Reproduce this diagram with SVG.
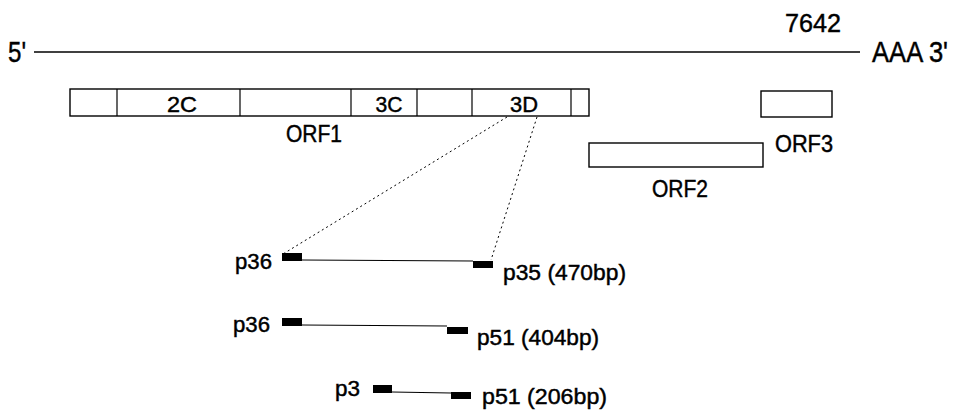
<svg xmlns="http://www.w3.org/2000/svg" width="960" height="410" viewBox="0 0 960 410">
  <style>
    text { font-family: "Liberation Sans", Arial, sans-serif; fill: #000; stroke: #000; stroke-width: 0.45; }
    .big { font-size: 30px; }
    .lbl { font-size: 24px; }
    .seg { font-size: 22px; text-anchor: middle; }
    .pr  { font-size: 22px; }
    .box { fill: #fff; stroke: #000; stroke-width: 1.4; }
    .div { stroke: #000; stroke-width: 1.2; }
    .rna { stroke: #000; stroke-width: 1.4; fill: none; }
    .amp { stroke: #000; stroke-width: 1.2; fill: none; }
    .dot { stroke: #000; stroke-width: 1; stroke-dasharray: 2 3; fill: none; }
    .primer { fill: #000; }
  </style>

  <!-- genomic RNA -->
  <g id="genome">
    <line class="rna" x1="34" y1="52" x2="860" y2="52"/>
    <text class="big" x="8" y="62" textLength="18" lengthAdjust="spacingAndGlyphs">5'</text>
    <text class="big" x="872" y="62" textLength="76" lengthAdjust="spacingAndGlyphs">AAA 3'</text>
    <text class="big" x="785" y="32" style="font-size:26.5px" textLength="56" lengthAdjust="spacingAndGlyphs">7642</text>
  </g>

  <!-- ORF1 polyprotein with its segments -->
  <g id="orf1">
    <rect class="box" x="70" y="89" width="519" height="27"/>
    <line class="div" x1="117" y1="89" x2="117" y2="116"/>
    <line class="div" x1="240" y1="89" x2="240" y2="116"/>
    <line class="div" x1="351" y1="89" x2="351" y2="116"/>
    <line class="div" x1="417" y1="89" x2="417" y2="116"/>
    <line class="div" x1="472" y1="89" x2="472" y2="116"/>
    <line class="div" x1="571" y1="89" x2="571" y2="116"/>
    <text class="seg" x="182" y="112" textLength="30" lengthAdjust="spacingAndGlyphs">2C</text>
    <text class="seg" x="389" y="112" textLength="27" lengthAdjust="spacingAndGlyphs">3C</text>
    <text class="seg" x="524" y="112" textLength="28" lengthAdjust="spacingAndGlyphs">3D</text>
    <text class="lbl" x="286" y="142" textLength="56" lengthAdjust="spacingAndGlyphs">ORF1</text>
  </g>

  <g id="orf2">
    <rect class="box" x="589" y="143" width="174" height="24"/>
    <text class="lbl" x="652" y="197" textLength="56" lengthAdjust="spacingAndGlyphs">ORF2</text>
  </g>

  <g id="orf3">
    <rect class="box" x="761" y="91" width="71" height="26"/>
    <text class="lbl" x="775" y="152" textLength="58" lengthAdjust="spacingAndGlyphs">ORF3</text>
  </g>

  <!-- projection of the 3D region onto the amplicons -->
  <g id="connectors">
    <line class="dot" x1="507" y1="117" x2="283" y2="254"/>
    <line class="dot" x1="537" y1="117" x2="491" y2="260"/>
  </g>

  <!-- RT-PCR amplicons -->
  <g id="amplicon-470">
    <line class="amp" x1="302" y1="260" x2="473" y2="261"/>
    <rect class="primer" x="282" y="253" width="20" height="8"/>
    <rect class="primer" x="473" y="261" width="20" height="7"/>
    <text class="pr" x="235" y="269" textLength="37" lengthAdjust="spacingAndGlyphs">p36</text>
    <text class="pr" x="503" y="280" textLength="123" lengthAdjust="spacingAndGlyphs">p35 (470bp)</text>
  </g>

  <g id="amplicon-404">
    <line class="amp" x1="302" y1="325" x2="447" y2="326"/>
    <rect class="primer" x="282" y="318" width="20" height="8"/>
    <rect class="primer" x="447" y="327" width="21" height="7"/>
    <text class="pr" x="233" y="332" textLength="37" lengthAdjust="spacingAndGlyphs">p36</text>
    <text class="pr" x="477" y="345" textLength="122" lengthAdjust="spacingAndGlyphs">p51 (404bp)</text>
  </g>

  <g id="amplicon-206">
    <line class="amp" x1="392" y1="392" x2="451" y2="393"/>
    <rect class="primer" x="373" y="385" width="19" height="8"/>
    <rect class="primer" x="451" y="392" width="20" height="7"/>
    <text class="pr" x="335" y="396" textLength="25" lengthAdjust="spacingAndGlyphs">p3</text>
    <text class="pr" x="482" y="404" textLength="125" lengthAdjust="spacingAndGlyphs">p51 (206bp)</text>
  </g>
</svg>
